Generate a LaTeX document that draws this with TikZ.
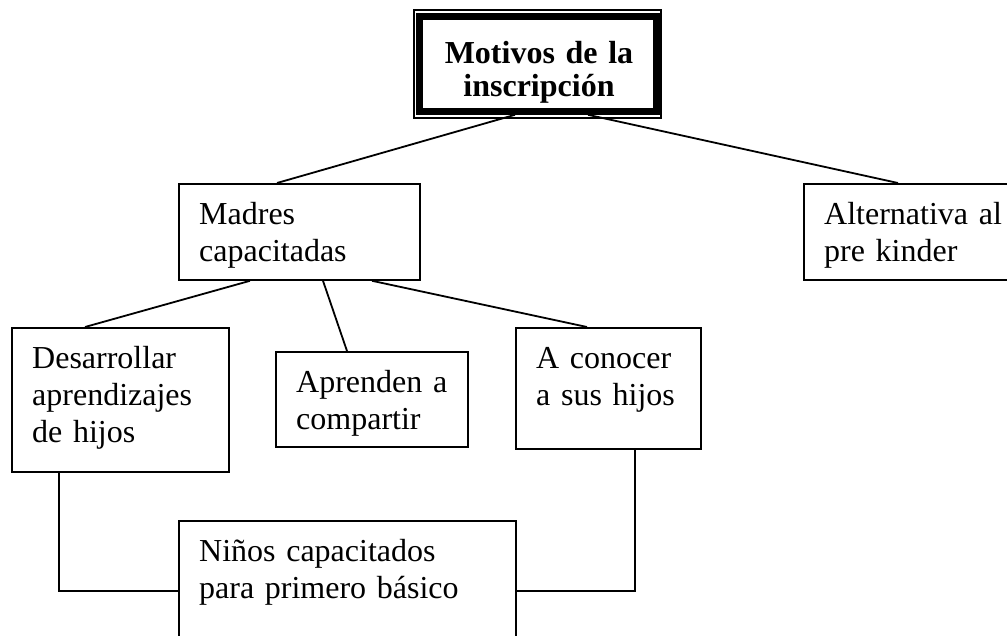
\documentclass[tikz,border=0pt]{standalone}
\usepackage{fontspec}
\setmainfont[WordSpace=0.85]{Liberation Serif}
\usetikzlibrary{calc}
\tikzset{
  box/.style={draw, line width=1.8pt, rectangle, inner sep=0pt, anchor=north west},
  lbl/.style={anchor=base west, inner sep=0pt, align=left, text width=300pt,
    font=\fontsize{32}{37}\selectfont},
  ttl/.style={anchor=base, inner sep=0pt, align=center, text width=245pt,
    font=\fontsize{32}{33}\selectfont\bfseries},
  conn/.style={line width=1.8pt},
}
\begin{document}
\begin{tikzpicture}[x=1pt,y=-1pt]
\useasboundingbox (0,0) rectangle (1007,635);
% boxes
\node[box, minimum width=247pt, minimum height=108pt] (top) at (413,9) {};
\node[box, minimum width=241pt, minimum height=96pt] (m) at (178,183) {};
\node[box, minimum width=210pt, minimum height=96pt] (a) at (803,183) {};
\node[box, minimum width=217pt, minimum height=144pt] (d) at (11,327) {};
\node[box, minimum width=192pt, minimum height=95pt] (ap) at (275,351) {};
\node[box, minimum width=185pt, minimum height=121pt] (c) at (515,327) {};
\node[box, minimum width=337pt, minimum height=140pt] (n) at (178,520) {};
% texts
\node[ttl] (topt) at ($(top.north west)+(126,54)$) {Motivos de la\\inscripción};
\draw[line width=7pt] ($(top.north west)+(6,7.5)$) rectangle ($(top.south east)+(-5,-7.5)$);
\node[lbl] (mt) at ($(m.north west)+(21,41)$) {Madres\\capacitadas};
\node[lbl] (at) at ($(a.north west)+(21,41)$) {Alternativa al\\pre kinder};
\node[lbl] (dt) at ($(d.north west)+(21,41)$) {Desarrollar\\aprendizajes\\de hijos};
\node[lbl] (apt) at ($(ap.north west)+(21,41)$) {Aprenden a\\compartir};
\node[lbl] (ct) at ($(c.north west)+(21,41)$) {A conocer\\a sus hijos};
\node[lbl] (nt) at ($(n.north west)+(21,41)$) {Niños capacitados\\para primero básico};
% connectors
\draw[conn] ($(top.south west)+(102,-4)$) -- ($(m.north west)+(99,0)$);
\draw[conn] ($(top.south west)+(175,-4)$) -- ($(a.north west)+(95,0)$);
\draw[conn] ($(m.south west)+(72,0)$) -- ($(d.north west)+(74,0)$);
\draw[conn] ($(m.south west)+(145,0)$) -- ($(ap.north west)+(72,0)$);
\draw[conn] ($(m.south west)+(194,0)$) -- ($(c.north west)+(72,0)$);
\draw[conn] ($(d.south west)+(48,0)$) |- ($(n.north west)+(0,71)$);
\draw[conn] ($(c.south west)+(120,0)$) |- ($(n.north east)+(0,71)$);
\end{tikzpicture}
\end{document}
